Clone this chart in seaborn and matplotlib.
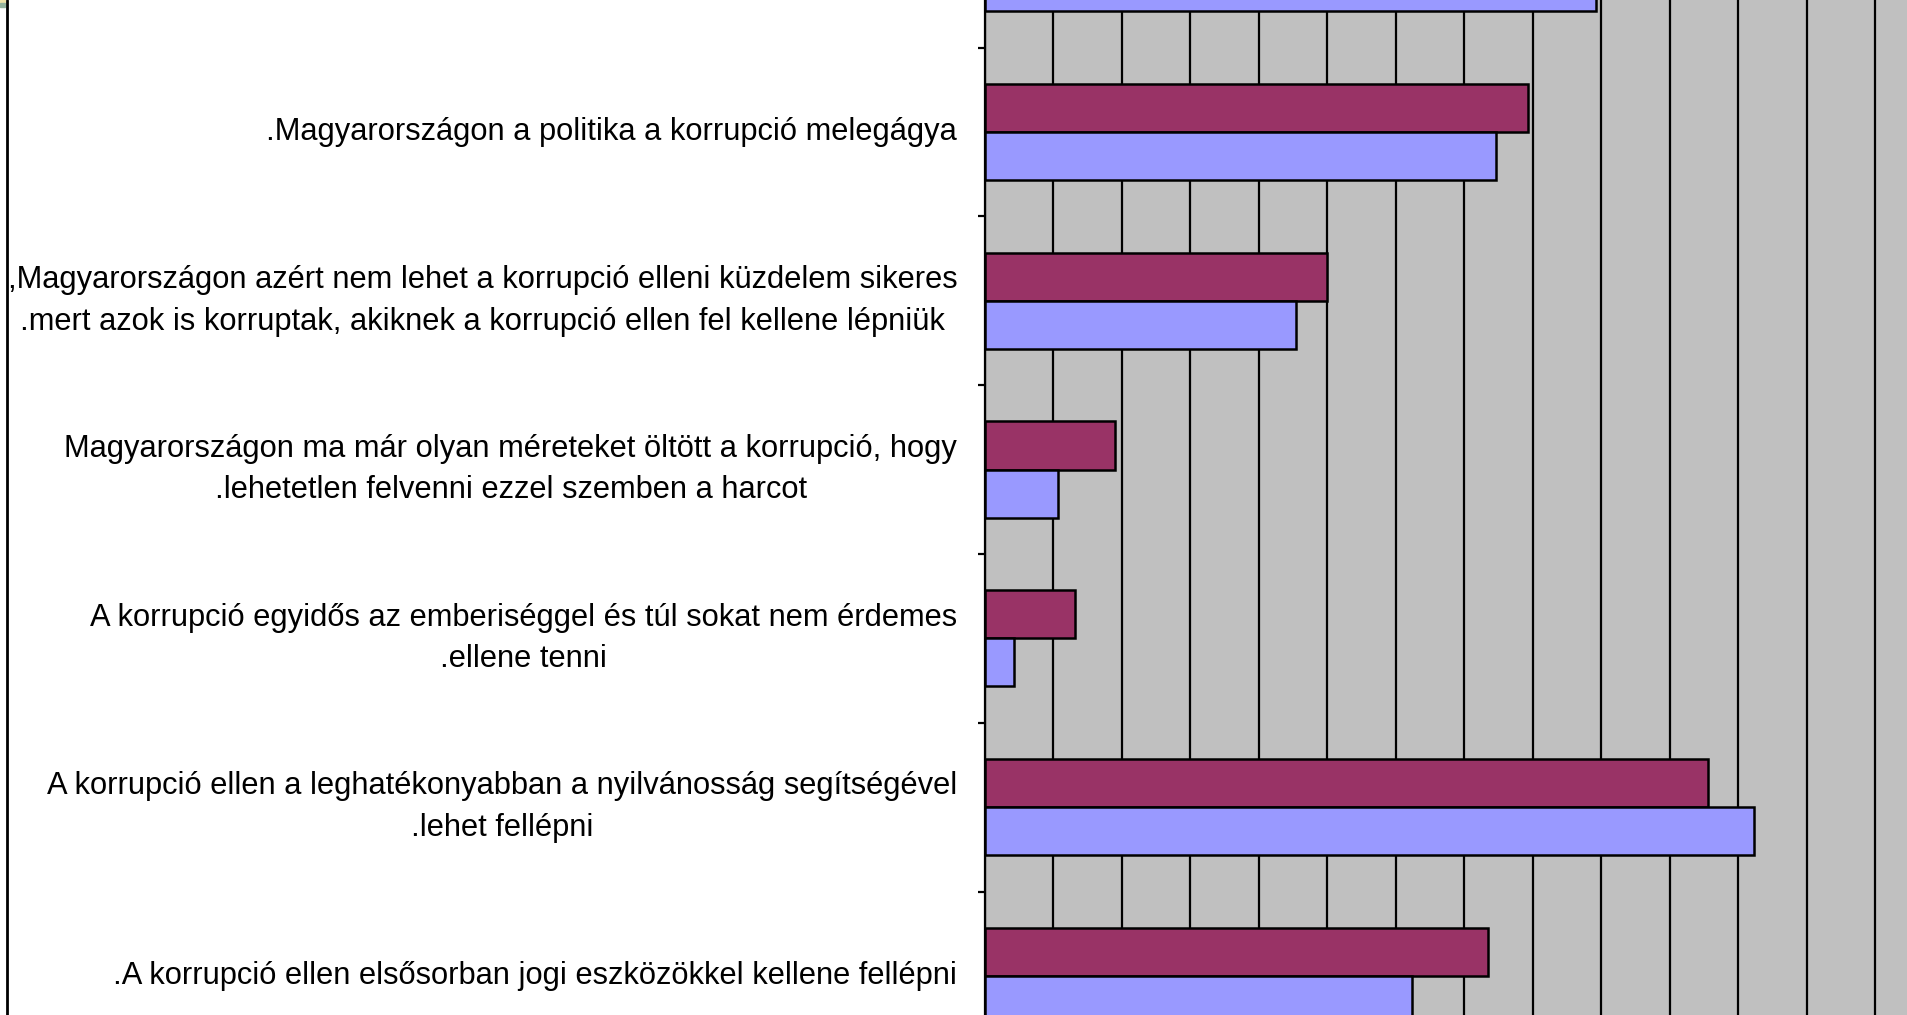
################################################################
# libraries:
import numpy as np
import pandas as pd
import matplotlib
matplotlib.use('Agg')
import matplotlib.pyplot as plt
import seaborn as sns
from matplotlib.lines import Line2D
from matplotlib.patches import Rectangle

################################################################
# data (top group is cut off by the crop):
labels = [
    ' ',
    '.Magyarországon a politika a korrupció melegágya',
    ',Magyarországon azért nem lehet a korrupció elleni küzdelem sikeres\n'
    '.mert azok is korruptak, akiknek a korrupció ellen fel kellene lépniük',
    'Magyarországon ma már olyan méreteket öltött a korrupció, hogy\n'
    '.lehetetlen felvenni ezzel szemben a harcot',
    'A korrupció egyidős az emberiséggel és túl sokat nem érdemes\n'
    '.ellene tenni',
    'A korrupció ellen a leghatékonyabban a nyilvánosság segítségével\n'
    '.lehet fellépni',
    '.A korrupció ellen elsősorban jogi eszközökkel kellene fellépni',
]
series_names = ['2. adatsor', '1. adatsor']
values_maroon = [None, 39.6, 25.0, 9.5, 6.6, 52.8, 36.7]
values_blue = [44.6, 37.3, 22.7, 5.3, 2.1, 56.1, 31.2]
colors = ['#993366', '#9999FF']

rows = []
for lab, vm, vb in zip(labels, values_maroon, values_blue):
    if vm is not None:
        rows.append((lab, series_names[0], vm))
    rows.append((lab, series_names[1], vb))
df = pd.DataFrame(rows, columns=['kategoria', 'sorozat', 'ertek'])

################################################################
# plot:
sns.set_style('white')
plt.rcParams['font.family'] = ['Liberation Sans', 'DejaVu Sans']
plt.rcParams['text.color'] = 'black'
plt.rcParams['ytick.color'] = 'black'

fig = plt.figure(figsize=(19.07, 10.15), dpi=100)
# axes is bigger than the picture (the reference is a crop of a larger chart)
ax = fig.add_axes([985 / 1907, -0.0447, 1370 / 1907, 1.1641])
ax.set_facecolor('#C0C0C0')

sns.barplot(data=df, y='kategoria', x='ertek', hue='sorozat',
            order=labels, hue_order=series_names, palette=colors,
            saturation=1, orient='h', width=0.57, gap=0, edgecolor='black',
            linewidth=1.8, legend=False, ax=ax, zorder=3)

ax.set_xlim(0, 100)
ax.set_ylim(len(labels) - 0.5, -0.5)
ax.set_xticks(np.arange(0, 101, 5))
ax.xaxis.grid(True, color='black', linewidth=1.6)
ax.yaxis.grid(False)
ax.set_axisbelow(True)
ax.tick_params(axis='x', length=0, labelbottom=False)

# tick marks between categories, labels at the centres
ax.set_yticks(np.arange(len(labels) - 1) + 0.5)
ax.set_yticklabels([])
ax.set_yticks(np.arange(len(labels)), minor=True)
ax.set_yticklabels(labels, minor=True, fontsize=22.2, ha='right', va='center',
                   color='black', multialignment='center', linespacing=1.5)
ax.tick_params(axis='y', which='major', length=5, width=1.6,
               direction='out', color='black', left=True)
ax.tick_params(axis='y', which='minor', length=0, pad=20)

ax.set_xlabel('')
ax.set_ylabel('')
for side in ['top', 'right', 'bottom']:
    ax.spines[side].set_visible(False)
ax.spines['left'].set_color('black')
ax.spines['left'].set_linewidth(1.6)

# outer chart border on the left, with the small corner bits
fig.add_artist(Line2D([7 / 1907, 7 / 1907], [0, 1], color='black',
                      linewidth=2, transform=fig.transFigure))
fig.add_artist(Rectangle((0, 1 - 3 / 1015), 5 / 1907, 3 / 1015,
                         color='#EFE3A8', transform=fig.transFigure))
fig.add_artist(Rectangle((0, 1 - 7 / 1015), 5 / 1907, 4 / 1015,
                         color='#93B39D', transform=fig.transFigure))

fig.savefig('out.png', dpi=100)
